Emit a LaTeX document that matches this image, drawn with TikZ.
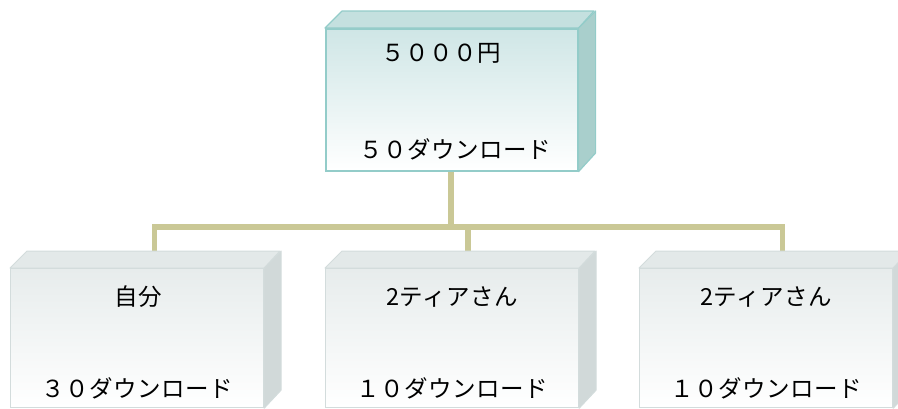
\documentclass[tikz,border=0pt]{standalone}
\usepackage{fontspec}
\newfontfamily\jpfont{Noto Sans CJK JP}[LetterSpace=2]
\definecolor{tealB}{HTML}{93CCC9}
\definecolor{tealTop}{HTML}{CFE6E6}
\definecolor{tealLid}{HTML}{C4E0DF}
\definecolor{tealSide}{HTML}{A9CFCC}
\definecolor{grayB}{HTML}{D3DCDC}
\definecolor{grayTop}{HTML}{E7ECEC}
\definecolor{grayLid}{HTML}{E3E9E9}
\definecolor{graySide}{HTML}{D1D9D9}
\definecolor{linkC}{HTML}{CAC896}
\tikzset{
  frontT/.style={draw=tealB, line width=1.6pt, top color=tealTop, bottom color=white,
    minimum width=252pt, minimum height=142pt, anchor=north west, inner sep=0pt},
  frontG/.style={draw=grayB, line width=1.2pt, top color=grayTop, bottom color=white,
    minimum width=253pt, minimum height=139pt, anchor=north west, inner sep=0pt},
  lidT/.style={fill=tealLid, draw=tealB, line width=1.2pt, line join=round},
  sideT/.style={fill=tealSide, draw=tealB, line width=1.2pt, line join=round},
  lidG/.style={fill=grayLid, draw=grayB, line width=1pt, line join=round},
  sideG/.style={fill=graySide, draw=grayB, line width=1pt, line join=round},
  link/.style={draw=linkC, line width=5.5pt},
  lbl/.style={font=\jpfont\fontsize{23.5}{24}\selectfont, text=black, inner sep=0pt}
}
\begin{document}
\begin{tikzpicture}[x=1pt,y=-1pt]
\useasboundingbox (0,0) rectangle (898,408);
\clip (0,0) rectangle (898,408);
% connector anchors
\coordinate (top-stem) at (451,170);
\coordinate (bus) at (451,227);
\coordinate (c1) at (154.5,251);
\coordinate (c2) at (468,251);
\coordinate (c3) at (782.5,251);
\draw[link] (top-stem) -- (bus);
\draw[link] (c1) |- (bus) -| (c3);
\draw[link] (bus -| c2) -- (c2);
% top box
\node[frontT] (top) at (325,28) {};
\filldraw[lidT] (top.north west) -- ++(17,-17) -- ++(252,0) -- (top.north east) -- cycle;
\filldraw[sideT] (top.north east) -- ++(17,-17) -- ++(0,142) -- (top.south east) -- cycle;
% bottom boxes
\foreach \n/\x in {b1/10, b2/325, b3/639} {
  \node[frontG] (\n) at (\x,268) {};
  \filldraw[lidG] (\n.north west) -- ++(17,-17) -- ++(253,0) -- (\n.north east) -- cycle;
  \filldraw[sideG] (\n.north east) -- ++(17,-17) -- ++(0,139) -- (\n.south east) -- cycle;
}
% texts
\node[lbl] (t-up) at (441.5,53) {５０００円};
\node[lbl] (t-dn) at (455,149) {５０ダウンロード};
\node[lbl] (b1-up) at (138,297) {自分};
\node[lbl] (b1-dn) at (137,388) {３０ダウンロード};
\node[lbl] (b2-up) at (452,297) {2ティアさん};
\node[lbl] (b2-dn) at (452,388) {１０ダウンロード};
\node[lbl] (b3-up) at (766,297) {2ティアさん};
\node[lbl] (b3-dn) at (766,388) {１０ダウンロード};
\end{tikzpicture}
\end{document}
